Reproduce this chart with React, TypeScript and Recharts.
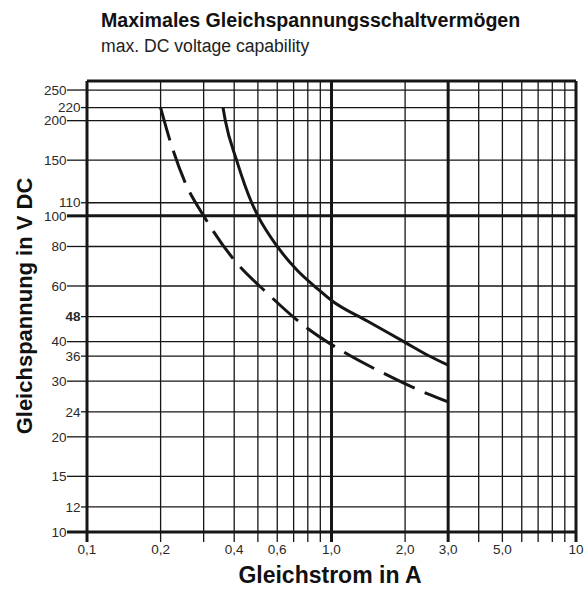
import React from "react";
import { LineChart, Line, XAxis, YAxis, ReferenceLine } from "recharts";

// current in A (log axis)
const xGrid = [0.1, 0.2, 0.3, 0.4, 0.5, 0.6, 0.7, 0.8, 0.9, 1, 2, 3, 4, 5, 6, 7, 8, 9, 10];
const xThick = [1, 3];
const xLabelValues = [0.1, 0.2, 0.4, 0.6, 1, 2, 3, 5, 10];
const xLabelTexts = ["0,1", "0,2", "0,4", "0,6", "1,0", "2,0", "3,0", "5,0", "10"];

// voltage in V DC (log axis)
const yTicks = [250, 220, 200, 150, 110, 100, 80, 60, 48, 40, 36, 30, 24, 20, 15, 12, 10];
const yShort = [220, 110, 48, 36, 24, 12];
const yThick = [100];

// curves read from the sheet
const solidI = [0.36, 0.368, 0.409, 0.4716, 0.5, 0.6, 0.722, 0.872, 1.0, 1.4, 2.0, 2.5, 3.0];
const solidU = [220, 200, 150, 110, 100, 80, 67.4, 59, 54, 46.5, 39.8, 36.1, 33.7];
const dashI = [0.2, 0.219, 0.2525, 0.3, 0.4, 0.545, 0.77, 1.09, 1.63, 2.46, 3.0];
const dashU = [220, 172, 127, 100, 72.5, 57, 45, 37.6, 31.8, 27.4, 25.8];

const X_MIN = 0.1;
const X_MAX = 10;
const Y_MIN = 10;
const Y_MAX = 267;

const font = '"Liberation Sans", Arial, sans-serif';
const ink = "#161616";

const solidData = solidI.map((i, k) => ({ i, u: solidU[k] }));
const dashData = dashI.map((i, k) => ({ i, u: dashU[k] }));

const YTick = (props: any) => {
  const { x, y, payload } = props;
  const v = payload.value;
  const len = yShort.includes(v) ? 6 : 20;
  const thick = yThick.includes(v) || v === Y_MIN;
  return (
    <g>
      <line x1={x - len} x2={x} y1={y} y2={y} stroke={ink} strokeWidth={thick ? 3 : 1.3} />
      <text
        x={x - len - 0.5}
        y={y}
        dy="0.35em"
        textAnchor="end"
        fontFamily={font}
        fontSize={13.5}
        fontWeight={v === 48 ? 700 : 400}
        fill="#2a2a2a"
      >
        {v}
      </text>
    </g>
  );
};

const XTick = (props: any) => {
  const { x, y, payload } = props;
  const v = payload.value;
  const idx = xLabelValues.indexOf(v);
  const thick = xThick.includes(v) || v === X_MIN || v === X_MAX;
  return (
    <g>
      <line x1={x} x2={x} y1={y} y2={y + 10} stroke={ink} strokeWidth={thick ? 3 : 1.3} />
      {idx >= 0 && (
        <text
          x={x}
          y={y + 12}
          dy="0.71em"
          textAnchor="middle"
          fontFamily={font}
          fontSize={13.5}
          fill="#2a2a2a"
        >
          {xLabelTexts[idx]}
        </text>
      )}
    </g>
  );
};

export default function App() {
  return (
    <div style={{ position: "absolute", left: 0, top: 0, width: 584, height: 589, background: "#fff" }}>
      <LineChart width={584} height={589} margin={{ top: 81, right: 8, bottom: 0, left: 0 }}>
        <XAxis
          dataKey="i"
          type="number"
          scale="log"
          domain={[X_MIN, X_MAX]}
          allowDataOverflow
          ticks={xGrid}
          interval={0}
          tick={<XTick />}
          tickLine={false}
          axisLine={false}
          tickSize={0}
          tickMargin={0}
          height={57}
        />
        <YAxis
          type="number"
          scale="log"
          domain={[Y_MIN, Y_MAX]}
          allowDataOverflow
          ticks={yTicks}
          interval={0}
          tick={<YTick />}
          tickLine={false}
          axisLine={false}
          tickSize={0}
          tickMargin={0}
          width={87}
        />

        {xGrid
          .filter((v) => v !== X_MIN && v !== X_MAX)
          .map((v) => (
            <ReferenceLine
              key={"x" + v}
              x={v}
              stroke={ink}
              strokeWidth={xThick.includes(v) ? 3 : 1.3}
            />
          ))}
        {yTicks
          .filter((v) => v !== Y_MIN)
          .map((v) => (
            <ReferenceLine
              key={"y" + v}
              y={v}
              stroke={ink}
              strokeWidth={yThick.includes(v) ? 3 : 1.3}
            />
          ))}

        <Line
          data={dashData}
          dataKey="u"
          type="monotone"
          stroke={ink}
          strokeWidth={3}
          strokeDasharray="34 11"
          strokeLinecap="butt"
          dot={false}
          activeDot={false}
          isAnimationActive={false}
        />
        <Line
          data={solidData}
          dataKey="u"
          type="monotone"
          stroke={ink}
          strokeWidth={3}
          dot={false}
          activeDot={false}
          isAnimationActive={false}
        />

        <ReferenceLine x={X_MIN} stroke={ink} strokeWidth={3} />
        <ReferenceLine x={X_MAX} stroke={ink} strokeWidth={3} />
        <ReferenceLine y={Y_MIN} stroke={ink} strokeWidth={3} />
        <ReferenceLine y={Y_MAX} stroke={ink} strokeWidth={3} />
      </LineChart>

      <svg
        width={584}
        height={589}
        style={{ position: "absolute", left: 0, top: 0, pointerEvents: "none" }}
      >
        <text x={101} y={27} fontFamily={font} fontSize={19.6} fontWeight={700} fill="#111">
          Maximales Gleichspannungsschaltvermögen
        </text>
        <text x={101} y={52} fontFamily={font} fontSize={17.6} fill="#222">
          max. DC voltage capability
        </text>
        <text
          x={330}
          y={583}
          textAnchor="middle"
          fontFamily={font}
          fontSize={23}
          fontWeight={700}
          fill="#111"
        >
          Gleichstrom in A
        </text>
        <text
          x={32}
          y={306}
          transform="rotate(-90 32 306)"
          textAnchor="middle"
          fontFamily={font}
          fontSize={22}
          fontWeight={700}
          fill="#111"
        >
          Gleichspannung in V DC
        </text>
      </svg>
    </div>
  );
}
